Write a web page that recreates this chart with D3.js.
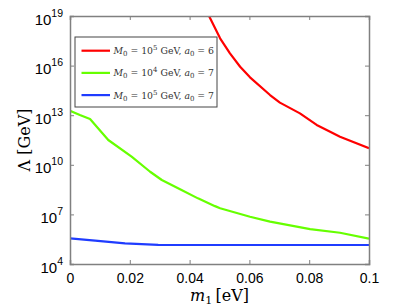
<!DOCTYPE html>
<html>
<head>
<meta charset="utf-8">
<script src="https://cdn.jsdelivr.net/npm/d3@7"></script>
<style>
  body { margin: 0; background: #fff; }
  svg { display: block; }
  .tick text { font-family: "Liberation Sans", Arial, sans-serif; }
</style>
</head>
<body>
<div id="chart"></div>
<script>
// data (m1 in eV, log10 of Lambda in GeV)
var redM   = [0.0450, 0.0465, 0.0502, 0.0535, 0.0569, 0.0602, 0.0669, 0.0702, 0.0769, 0.0825, 0.0870, 0.0903, 0.1000];
var redL   = [19.6,   19.0,   17.65,  16.74,  15.93,  15.29,  14.22,  13.76,  13.11,  12.41,  12.00,  11.70,  11.00];
var greenM = [0, 0.0033, 0.0067, 0.0128, 0.0206, 0.0268, 0.0307, 0.0373, 0.0428, 0.0485, 0.0502, 0.0602, 0.0669, 0.0803, 0.0903, 0.1];
var greenL = [13.27, 13.01, 12.77, 11.5, 10.49, 9.58, 9.08, 8.47, 7.97, 7.5, 7.37, 6.86, 6.56, 6.11, 5.89, 5.53];
var blueM  = [0, 0.0084, 0.0184, 0.0295, 0.05, 0.1];
var blueL  = [5.55, 5.41, 5.25, 5.16, 5.15, 5.15];

var xTicks = [0, 0.02, 0.04, 0.06, 0.08, 0.1];
var yTickExps = [4, 7, 10, 13, 16, 19];

var seriesNames = [
  {m0: "5", a0: "6"},
  {m0: "4", a0: "7"},
  {m0: "5", a0: "7"}
];
var seriesColors = ["#ff0000", "#66ff00", "#1f3cff"];

var width = 407, height = 306;
var margin = {top: 16, right: 38, bottom: 42, left: 70};
var w = width - margin.left - margin.right;
var h = height - margin.top - margin.bottom;

var svg = d3.select("#chart").append("svg")
  .attr("width", width)
  .attr("height", height);

var x = d3.scaleLinear().domain([0, 0.1]).range([0, w]);
var y = d3.scaleLinear().domain([4, 19]).range([h, 0]);

var g = svg.append("g").attr("transform", `translate(${margin.left},${margin.top})`);

g.append("clipPath").attr("id", "clip")
  .append("rect").attr("width", w).attr("height", h);

// lines
var series = [
  d3.zip(redM, redL),
  d3.zip(greenM, greenL),
  d3.zip(blueM, blueL)
];
var line = d3.line().x(d => x(d[0])).y(d => y(d[1]));

g.append("g").attr("clip-path", "url(#clip)")
  .selectAll("path")
  .data(series)
  .enter()
  .append("path")
  .attr("d", line)
  .attr("fill", "none")
  .attr("stroke", (d, i) => seriesColors[i])
  .attr("stroke-width", 2.2)
  .attr("stroke-linejoin", "round");

// axes
var axisColor = "#808080";
var xAxis = d3.axisBottom(x).tickValues(xTicks).tickSize(-4).tickPadding(9)
  .tickFormat(d => d === 0 ? "0" : d3.format(".2~f")(d));
var xg = g.append("g").attr("transform", `translate(0,${h})`).call(xAxis);
xg.selectAll("text").attr("font-size", 14).attr("fill", "#000");

var yAxis = d3.axisLeft(y).tickValues(yTickExps).tickSize(-4).tickPadding(8).tickFormat("");
var yg = g.append("g").call(yAxis);
yg.selectAll(".tick").append("text")
  .attr("x", -7)
  .attr("y", 8)
  .attr("text-anchor", "end")
  .attr("fill", "#000")
  .attr("font-size", 15)
  .each(function(d) {
    var t = d3.select(this);
    t.append("tspan").text("10");
    t.append("tspan").attr("font-size", 10.5).attr("dy", -8).text(d);
  });

// mirror ticks top and right
g.append("g").call(d3.axisTop(x).tickValues(xTicks).tickSize(-4).tickFormat(""));
g.append("g").attr("transform", `translate(${w},0)`)
  .call(d3.axisRight(y).tickValues(yTickExps).tickSize(-4).tickFormat(""));

g.selectAll(".domain").attr("stroke", axisColor).attr("stroke-width", 1.5);
g.selectAll(".tick line").attr("stroke", axisColor);

// axis labels
svg.append("text")
  .attr("x", margin.left + w / 2)
  .attr("y", 301)
  .attr("text-anchor", "middle")
  .attr("font-family", "'DejaVu Serif', 'Liberation Serif', serif")
  .attr("font-size", 16)
  .call(t => {
    t.append("tspan").attr("font-style", "italic").text("m");
    t.append("tspan").attr("font-size", 11).attr("dy", 3).text("1");
    t.append("tspan").attr("dy", -3).text("\u2009[eV]");
  });

svg.append("text")
  .attr("transform", `translate(30,${margin.top + h / 2}) rotate(-90)`)
  .attr("text-anchor", "middle")
  .attr("font-family", "'DejaVu Serif', 'Liberation Serif', serif")
  .attr("font-size", 16)
  .text("\u039B [GeV]");

// legend
var legend = svg.append("g").attr("transform", "translate(75,37)");
legend.append("rect")
  .attr("width", 142).attr("height", 70)
  .attr("fill", "#fff").attr("stroke", "#444").attr("stroke-width", 1);

var rows = legend.selectAll("g.row")
  .data(seriesNames)
  .enter()
  .append("g")
  .attr("class", "row")
  .attr("transform", (d, i) => `translate(0,${13.7 + i * 22.2})`);

rows.append("line")
  .attr("x1", 6.5).attr("x2", 35)
  .attr("stroke", (d, i) => seriesColors[i])
  .attr("stroke-width", 2.2);

rows.append("text")
  .attr("x", 38.5)
  .attr("y", 3.5)
  .attr("font-family", "'DejaVu Serif', 'Liberation Serif', serif")
  .attr("font-size", 9.3)
  .attr("fill", "#333")
  .each(function(d) {
    var t = d3.select(this);
    t.append("tspan").attr("font-style", "italic").text("M");
    t.append("tspan").attr("font-size", 7).attr("dy", 2).text("0");
    t.append("tspan").attr("dy", -2).text(" = 10");
    t.append("tspan").attr("font-size", 7).attr("dy", -4).text(d.m0);
    t.append("tspan").attr("dy", 4).text(" GeV, ");
    t.append("tspan").attr("font-style", "italic").text("a");
    t.append("tspan").attr("font-size", 7).attr("dy", 2).text("0");
    t.append("tspan").attr("dy", -2).text(" = " + d.a0);
  });
</script>
</body>
</html>
